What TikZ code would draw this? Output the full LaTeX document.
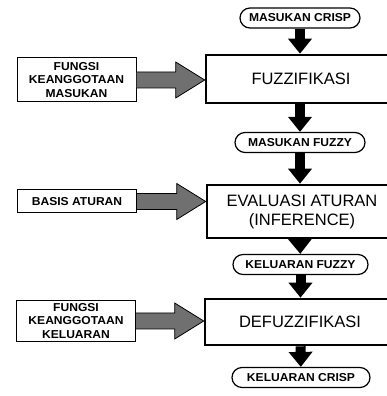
\documentclass[tikz,border=0pt]{standalone}
\usepackage{fontspec}
\usepackage{tikz}
\usetikzlibrary{arrows.meta,calc,positioning}
\setmainfont{Liberation Sans}
\newfontfamily\tagfont[FakeStretch=1.05]{Liberation Sans Bold}
\definecolor{arrowgray}{RGB}{112,112,112}

\tikzset{
  proc/.style={rectangle,draw,line width=2.6pt,minimum width=190pt,align=center,
    font=\fontsize{16.5}{19}\selectfont},
  pill/.style={rectangle,rounded corners=10pt,draw,line width=1.2pt,minimum height=20pt,
    font=\tagfont\fontsize{11.5}{13.5}\selectfont},
  src/.style={rectangle,draw,line width=1pt,minimum width=119pt,align=center,
    font=\tagfont\fontsize{11.5}{13.5}\selectfont},
  flow/.style={line width=10pt,-{Triangle[width=23pt,length=15pt]}}
}

\begin{document}
\begin{tikzpicture}[x=1pt,y=1pt]
        \clip (0,0) rectangle (387,396);

        \node [pill,minimum width=120pt] (ci) at (300,378) {MASUKAN CRISP};
        \node [proc,minimum height=48pt] (fz) at (301,317) {FUZZIFIKASI};
        \node [pill,minimum width=130pt] (mf) at (300,253.5) {MASUKAN FUZZY};
        \node [proc,minimum height=53pt] (ev) at (302,184.5) {EVALUASI ATURAN\\(INFERENCE)};
        \node [pill,minimum width=135pt] (kf) at (300.5,131.5) {KELUARAN FUZZY};
        \node [proc,minimum height=46pt] (df) at (300,74) {DEFUZZIFIKASI};
        \node [pill,minimum width=138pt] (co) at (301,18.5) {KELUARAN CRISP};

        \node [src,minimum height=44pt] (fm) at (76.5,316) {FUNGSI\\KEANGGOTAAN\\MASUKAN};
        \node [src,minimum height=23pt] (ba) at (77,194.5) {BASIS ATURAN};
        \node [src,minimum height=38pt] (fk) at (76,75) {FUNGSI\\KEANGGOTAAN\\KELUARAN};

        \draw [flow] (ci) -- (ci |- fz.north);
        \draw [flow] (ci |- fz.south) -- (mf);
        \draw [flow] (mf) -- (mf |- ev.north);
        \draw [flow] (mf |- ev.south) -- (kf);
        \draw [flow] (kf) -- (kf |- df.north);
        \draw [flow] (kf |- df.south) -- (co);

        % grey block arrows
        \foreach \a/\b in {fm/fz,ba/ev,fk/df}
          \filldraw [fill=arrowgray,line width=0.8pt,line join=miter]
            let \p1=(\a.east), \p2=(\b.west) in
            (\x1,\y1+8) -- (\x2-29,\y1+8) -- (\x2-29,\y1+18) -- (\x2,\y1)
            -- (\x2-29,\y1-18) -- (\x2-29,\y1-8) -- (\x1,\y1-8);
    \end{tikzpicture}
\end{document}
